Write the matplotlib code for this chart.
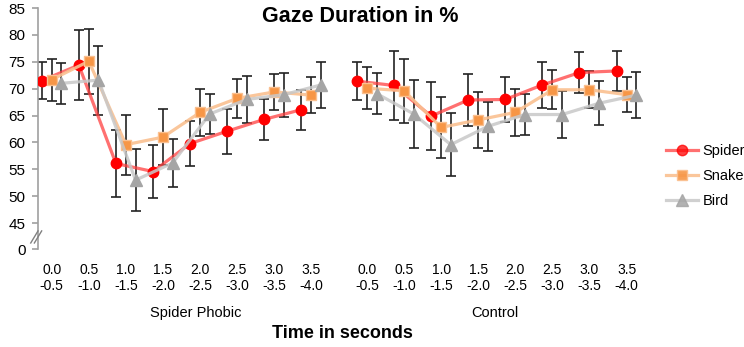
import numpy as np
import matplotlib.pyplot as plt
from matplotlib.lines import Line2D

plt.rcParams['font.family'] = ['Liberation Sans', 'DejaVu Sans']

# --- data ---
time_labels = ["0.0\n-0.5", "0.5\n-1.0", "1.0\n-1.5", "1.5\n-2.0",
               "2.0\n-2.5", "2.5\n-3.0", "3.0\n-3.5", "3.5\n-4.0"]
groups = ["Spider Phobic", "Control"]
series = ["Spider", "Snake", "Bird"]

spider_phobic = [71.5, 74.4, 56.1, 54.6, 59.8, 62.1, 64.3, 66.1]
snake_phobic = [71.7, 75.1, 59.6, 61.0, 65.6, 68.2, 69.4, 68.8]
bird_phobic = [71.0, 71.6, 53.0, 56.2, 65.3, 68.0, 68.9, 70.7]
spider_control = [71.4, 70.6, 64.9, 67.9, 68.0, 70.7, 73.0, 73.3]
snake_control = [70.1, 69.6, 62.8, 64.2, 65.6, 69.8, 69.8, 68.9]
bird_control = [69.1, 65.3, 59.6, 63.0, 65.2, 65.2, 67.3, 68.8]

spider_err = [3.5, 6.5, 6.3, 4.9, 4.2, 4.2, 3.8, 3.7]
snake_err = [3.9, 6.0, 5.6, 5.2, 4.4, 3.6, 3.4, 3.3]
bird_err = [3.8, 6.4, 5.8, 4.5, 3.8, 4.4, 4.1, 4.3]

y_ticks = [45, 50, 55, 60, 65, 70, 75, 80, 85]
break_pos = 40.2   # where "0" sits below the axis break

# --- styling ---
styles = {
    "Spider": dict(marker='o', ms=7.5, mfc='#FF0000', mec='#FF0000',
                   line='#FF4040', alpha=0.75),
    "Snake": dict(marker='s', ms=6.5, mfc='#F79646', mec='#FAC090',
                  line='#FAC090', alpha=0.9),
    "Bird": dict(marker='^', ms=8, mfc='#A5A5A5', mec='#A5A5A5',
                 line='#C8C8C8', alpha=0.85),
}
offsets = {"Spider": -0.27, "Snake": 0.0, "Bird": 0.26}
values = {
    "Spider": (spider_phobic, spider_control, spider_err),
    "Snake": (snake_phobic, snake_control, snake_err),
    "Bird": (bird_phobic, bird_control, bird_err),
}

cats = np.arange(len(time_labels))
group_base = [cats, cats + 8.5]

fig = plt.figure(figsize=(7.44, 3.47), dpi=100)
ax = fig.add_axes([0.0511, 0.2824, 0.816, 0.6945])

z = 3
for name in series:
    st = styles[name]
    phobic, control, err = values[name]
    for base, vals in zip(group_base, (phobic, control)):
        x = base + offsets[name]
        ax.errorbar(x, vals, yerr=err, fmt='none', ecolor='#222222',
                    elinewidth=1.2, capsize=3.5, capthick=1.2, zorder=2)
        ax.plot(x, vals, color=st['line'], lw=2.3, alpha=st['alpha'],
                zorder=z)
        ax.plot(x, vals, ls='none', marker=st['marker'], ms=st['ms'],
                mfc=st['mfc'], mec=st['mec'], mew=1, zorder=z + 0.5)
    z += 1

ax.set_xlim(-0.37, 16.0)
ax.set_ylim(break_pos, 85)
ax.set_yticks([break_pos] + y_ticks)
ax.set_yticklabels(["0"] + [str(t) for t in y_ticks])
ax.set_xticks(np.concatenate(group_base))
ax.set_xticklabels(time_labels * 2)

for s in ('top', 'right', 'bottom'):
    ax.spines[s].set_visible(False)
ax.spines['left'].set_color('#A0A0A0')
ax.spines['left'].set_linewidth(1.2)
ax.tick_params(axis='y', direction='out', length=4, width=1.2,
               color='#A0A0A0', labelsize=11, pad=5)
ax.tick_params(axis='x', length=0, labelsize=10, pad=10)

# axis break marks
bx = 0.0
for dx in (-0.006, 0.0):
    ax.plot([bx + dx - 0.006, bx + dx + 0.006], [0.025, 0.075],
            transform=ax.transAxes, color='#808080', lw=1,
            clip_on=False, zorder=6)

fig.text(360 / 744, 1 - 16 / 347, "Gaze Duration in %", ha='center',
         va='center', fontsize=15.5, fontweight='bold')
fig.text(196 / 744, 1 - 313 / 347, groups[0], ha='center', va='center',
         fontsize=10.5)
fig.text(495 / 744, 1 - 313 / 347, groups[1], ha='center', va='center',
         fontsize=10.5)
fig.text(342 / 744, 1 - 333 / 347, "Time in seconds", ha='center',
         va='center', fontsize=13, fontweight='bold')

handles = []
for name in series:
    st = styles[name]
    handles.append(Line2D([0], [0], color=st['line'], lw=2.3,
                          alpha=st['alpha'], marker=st['marker'],
                          ms=st['ms'], mfc=st['mfc'], mec=st['mec']))
fig.legend(handles, series, loc='upper left',
           bbox_to_anchor=(660 / 744, 1 - 138 / 347), frameon=False,
           fontsize=10.5, handlelength=2.2, handletextpad=0.3,
           labelspacing=0.75, borderaxespad=0)

fig.savefig('out.png', dpi=100)
